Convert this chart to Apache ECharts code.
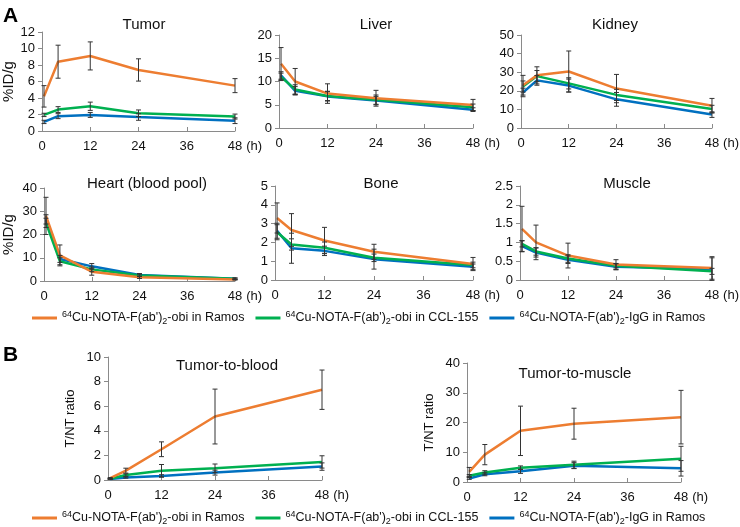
<!DOCTYPE html>
<html><head><meta charset="utf-8">
<script src="https://cdn.jsdelivr.net/npm/echarts@6/dist/echarts.min.js"></script>
<style>html,body{margin:0;padding:0;background:#fff}#c{width:740px;height:527px}</style>
</head><body><div id="c"></div>
<script>
// time points (h)
const hours = [0.5, 4, 12, 24, 48];
const xTicks = [0, 12, 24, 36, 48];
const seriesNames = ['obiRamos', 'obiCCL', 'iggRamos'];

// Tumor %ID/g
const tumorObiRamos = [4.2, 8.4, 9.1, 7.4, 5.5];
const tumorObiRamosErr = [1.3, 2.0, 1.7, 1.35, 0.85];
const tumorObiCCL = [1.95, 2.6, 3.0, 2.15, 1.75];
const tumorObiCCLErr = [0.2, 0.35, 0.5, 0.4, 0.3];
const tumorIgG = [1.1, 1.8, 1.95, 1.7, 1.25];
const tumorIgGErr = [0.2, 0.3, 0.3, 0.4, 0.35];
// Liver
const liverObiRamos = [13.8, 10.0, 7.4, 6.4, 4.95];
const liverObiRamosErr = [3.5, 2.8, 2.1, 1.7, 1.2];
const liverObiCCL = [11.0, 8.3, 6.9, 6.1, 4.45];
const liverObiCCLErr = [0.8, 1.0, 1.0, 1.0, 0.7];
const liverIgG = [11.3, 8.0, 6.8, 5.9, 3.95];
const liverIgGErr = [0.8, 0.9, 1.0, 0.9, 0.4];
// Kidney
const kidneyObiRamos = [23.0, 28.3, 30.4, 21.2, 12.0];
const kidneyObiRamosErr = [5.3, 4.6, 11.0, 7.6, 3.9];
const kidneyObiCCL = [22.3, 27.9, 24.0, 17.8, 10.2];
const kidneyObiCCLErr = [3.0, 3.0, 3.0, 3.0, 2.0];
const kidneyIgG = [19.1, 25.6, 22.8, 15.4, 7.2];
const kidneyIgGErr = [2.3, 2.6, 3.5, 3.7, 1.5];
// Heart (blood pool)
const heartObiRamos = [28.0, 11.0, 4.0, 1.6, 0.6];
const heartObiRamosErr = [8.0, 4.5, 1.5, 0.5, 0.2];
const heartObiCCL = [25.0, 8.5, 5.0, 2.4, 1.0];
const heartObiCCLErr = [2.0, 1.5, 1.0, 0.5, 0.3];
const heartIgG = [26.5, 9.5, 6.3, 2.6, 1.0];
const heartIgGErr = [2.0, 1.5, 1.2, 0.6, 0.3];
// Bone
const boneObiRamos = [3.3, 2.66, 2.1, 1.5, 0.85];
const boneObiRamosErr = [0.8, 0.87, 0.7, 0.4, 0.35];
const boneObiCCL = [2.54, 1.89, 1.72, 1.18, 0.8];
const boneObiCCLErr = [0.4, 0.3, 0.3, 0.2, 0.15];
const boneIgG = [2.62, 1.69, 1.55, 1.11, 0.7];
const boneIgGErr = [0.4, 0.8, 0.25, 0.53, 0.15];
// Muscle
const muscleObiRamos = [1.36, 1.0, 0.65, 0.41, 0.32];
const muscleObiRamosErr = [0.6, 0.46, 0.33, 0.13, 0.3];
const muscleObiCCL = [0.96, 0.76, 0.57, 0.38, 0.23];
const muscleObiCCLErr = [0.08, 0.1, 0.1, 0.06, 0.08];
const muscleIgG = [0.9, 0.73, 0.54, 0.35, 0.29];
const muscleIgGErr = [0.15, 0.12, 0.1, 0.08, 0.3];
// Tumor-to-blood ratio
const t2bObiRamos = [0.15, 0.76, 2.5, 5.16, 7.34];
const t2bObiRamosErr = [0.05, 0.2, 0.6, 2.23, 1.6];
const t2bObiCCL = [0.1, 0.4, 0.76, 0.95, 1.47];
const t2bObiCCLErr = [0.03, 0.1, 0.5, 0.35, 0.5];
const t2bIgG = [0.08, 0.2, 0.33, 0.6, 1.09];
const t2bIgGErr = [0.02, 0.05, 0.1, 0.2, 0.3];
// Tumor-to-muscle ratio
const t2mObiRamos = [3.4, 9.2, 17.2, 19.6, 21.8];
const t2mObiRamosErr = [1.5, 3.4, 8.3, 5.2, 9.0];
const t2mObiCCL = [2.1, 3.2, 4.8, 5.8, 7.8];
const t2mObiCCLErr = [0.4, 0.6, 0.6, 1.2, 4.2];
const t2mIgG = [1.2, 2.6, 3.6, 5.5, 4.6];
const t2mIgGErr = [0.3, 0.5, 0.7, 1.0, 2.6];

const FONT = "'Liberation Sans', Arial, sans-serif";
const colors = {obiRamos: '#ED7D31', obiCCL: '#00B050', iggRamos: '#0070C0'};
const legendText = {
  obiRamos: "{sup|64}Cu-NOTA-F(ab'){sub|2}-obi in Ramos",
  obiCCL: "{sup|64}Cu-NOTA-F(ab'){sub|2}-obi in CCL-155",
  iggRamos: "{sup|64}Cu-NOTA-F(ab'){sub|2}-IgG in Ramos"
};

const panels = [
  {title: 'Tumor', tx: 144, ty: 17, grid: {left: 41, top: 32, width: 194, height: 99}, max: 12, step: 2, yName: '%ID/g', nameGap: 26, nameSize: 15,
   d: [[tumorObiRamos, tumorObiRamosErr], [tumorObiCCL, tumorObiCCLErr], [tumorIgG, tumorIgGErr]]},
  {title: 'Liver', tx: 376, ty: 17, grid: {left: 279, top: 35, width: 194, height: 93}, max: 20, step: 5,
   d: [[liverObiRamos, liverObiRamosErr], [liverObiCCL, liverObiCCLErr], [liverIgG, liverIgGErr]]},
  {title: 'Kidney', tx: 615, ty: 17, grid: {left: 521, top: 35, width: 194, height: 93}, max: 50, step: 10,
   d: [[kidneyObiRamos, kidneyObiRamosErr], [kidneyObiCCL, kidneyObiCCLErr], [kidneyIgG, kidneyIgGErr]]},
  {title: 'Heart (blood pool)', tx: 147, ty: 176, grid: {left: 43, top: 188, width: 192, height: 93}, max: 40, step: 10, yName: '%ID/g', nameGap: 28, nameSize: 15,
   d: [[heartObiRamos, heartObiRamosErr], [heartObiCCL, heartObiCCLErr], [heartIgG, heartIgGErr]]},
  {title: 'Bone', tx: 381, ty: 176, grid: {left: 275, top: 186, width: 198, height: 94}, max: 5, step: 1,
   d: [[boneObiRamos, boneObiRamosErr], [boneObiCCL, boneObiCCLErr], [boneIgG, boneIgGErr]]},
  {title: 'Muscle', tx: 627, ty: 176, grid: {left: 520, top: 186, width: 195, height: 94}, max: 2.5, step: 0.5,
   d: [[muscleObiRamos, muscleObiRamosErr], [muscleObiCCL, muscleObiCCLErr], [muscleIgG, muscleIgGErr]]},
  {title: 'Tumor-to-blood', tx: 227, ty: 358, grid: {left: 108, top: 357, width: 214, height: 123}, max: 10, step: 2, yName: 'T/NT ratio', nameGap: 31, nameSize: 13,
   d: [[t2bObiRamos, t2bObiRamosErr], [t2bObiCCL, t2bObiCCLErr], [t2bIgG, t2bIgGErr]]},
  {title: 'Tumor-to-muscle', tx: 575, ty: 366, grid: {left: 467, top: 363, width: 214, height: 119}, max: 40, step: 10, yName: 'T/NT ratio', nameGap: 31, nameSize: 13,
   d: [[t2mObiRamos, t2mObiRamosErr], [t2mObiCCL, t2mObiCCLErr], [t2mIgG, t2mIgGErr]]}
];

const axisGray = '#8a8a8a';
const grids = [], xAxes = [], yAxes = [], series = [];
const titles = [
  {text: 'A', left: 3, top: 6, padding: 0, textStyle: {fontSize: 21, fontWeight: 'bold', color: '#000', fontFamily: FONT}},
  {text: 'B', left: 3, top: 345, padding: 0, textStyle: {fontSize: 21, fontWeight: 'bold', color: '#000', fontFamily: FONT}}
];

function renderErr(params, api) {
  const x = api.value(0), lo = api.value(1), hi = api.value(2);
  const a = api.coord([x, hi]), b = api.coord([x, lo]);
  const w = 2.5;
  const st = {stroke: '#333', lineWidth: 1};
  return {type: 'group', children: [
    {type: 'line', shape: {x1: a[0], y1: a[1], x2: b[0], y2: b[1]}, style: st},
    {type: 'line', shape: {x1: a[0] - w, y1: a[1], x2: a[0] + w, y2: a[1]}, style: st},
    {type: 'line', shape: {x1: b[0] - w, y1: b[1], x2: b[0] + w, y2: b[1]}, style: st}
  ]};
}

panels.forEach((p, i) => {
  grids.push(Object.assign({containLabel: false}, p.grid));
  titles.push({text: p.title, left: p.tx, top: p.ty, textAlign: 'center', padding: 0,
    textStyle: {fontSize: 15, fontWeight: 'normal', color: '#111', fontFamily: FONT}});
  xAxes.push({type: 'value', gridIndex: i, min: 0, max: 48, interval: 12,
    name: '(h)', nameLocation: 'end', nameGap: 1,
    nameTextStyle: {fontSize: 13, color: '#111', fontFamily: FONT, verticalAlign: 'top', padding: [9, 0, 0, 0]},
    axisLine: {show: true, lineStyle: {color: axisGray, width: 1}},
    axisTick: {show: true, inside: true, length: 4, lineStyle: {color: axisGray}},
    axisLabel: {fontSize: 13, color: '#111', fontFamily: FONT, margin: 9,
      formatter: v => xTicks.indexOf(v) >= 0 ? String(v) : ''},
    splitLine: {show: false}});
  yAxes.push({type: 'value', gridIndex: i, min: 0, max: p.max, interval: p.step,
    name: p.yName || '', nameLocation: 'middle', nameGap: p.nameGap || 25, nameRotate: 90,
    nameTextStyle: {fontSize: p.nameSize || 15, color: '#111', fontFamily: FONT},
    axisLine: {show: true, lineStyle: {color: axisGray, width: 1}},
    axisTick: {show: true, length: 4, lineStyle: {color: axisGray}},
    axisLabel: {fontSize: 13, color: '#111', fontFamily: FONT, margin: 7},
    splitLine: {show: false}});
  const errData = [];
  [2, 1, 0].forEach(k => {
    const vals = p.d[k][0];
    series.push({type: 'line', name: seriesNames[k], xAxisIndex: i, yAxisIndex: i,
      color: colors[seriesNames[k]], symbol: 'none', showSymbol: false, z: 2 + (2 - k) * 0.1,
      lineStyle: {width: 2.5, color: colors[seriesNames[k]]},
      data: hours.map((h, j) => [h, vals[j]])});
  });
  [0, 1, 2].forEach(k => {
    const vals = p.d[k][0], errs = p.d[k][1];
    hours.forEach((h, j) => errData.push([h, vals[j] - errs[j], vals[j] + errs[j]]));
  });
  series.push({type: 'custom', name: 'err' + i, xAxisIndex: i, yAxisIndex: i, z: 5,
    renderItem: renderErr, encode: {x: 0, y: [1, 2]}, data: errData, clip: false});
});

const legendBase = {
  data: seriesNames, icon: 'rect', itemWidth: 25, itemHeight: 3, itemGap: 11, left: 32, padding: 0,
  selectedMode: false,
  formatter: n => legendText[n],
  textStyle: {fontSize: 12.5, color: '#111', fontFamily: FONT, lineHeight: 16,
    rich: {sup: {fontSize: 9, verticalAlign: 'top', lineHeight: 11, fontFamily: FONT, color: '#111'},
           sub: {fontSize: 9, verticalAlign: 'bottom', lineHeight: 9, fontFamily: FONT, color: '#111'}}}
};

const chart = echarts.init(document.getElementById('c'), null, {renderer: 'canvas'});
chart.setOption({
  animation: false,
  backgroundColor: '#fff',
  title: titles,
  legend: [Object.assign({top: 310}, legendBase), Object.assign({top: 510}, legendBase)],
  grid: grids, xAxis: xAxes, yAxis: yAxes, series: series
});
</script></body></html>
